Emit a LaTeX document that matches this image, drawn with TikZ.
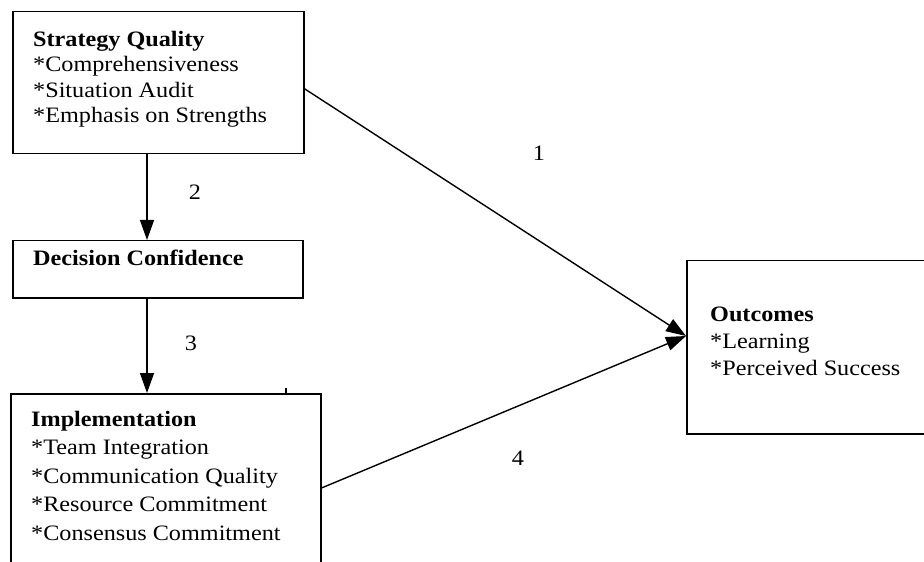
\documentclass[tikz,border=0pt]{standalone}
\usepackage{fontspec}
\setmainfont{Liberation Serif}[FakeStretch=1.1]
\usetikzlibrary{arrows.meta}
\begin{document}
\begin{tikzpicture}[x=1bp,y=-1bp,
  box/.style={draw, line width=1.5bp, inner sep=0pt, rectangle},
  txt/.style={anchor=north west, inner sep=0pt, align=left},
  arr/.style={line width=1.4bp, -{Triangle[width=14bp,length=20bp]}},
  lbl/.style={inner sep=0pt, font=\fontsize{22bp}{25bp}\selectfont}]
\useasboundingbox (0,0) rectangle (924,562);
\clip (0,0) rectangle (924,562);
\fill[white] (0,0) rectangle (924,562);
% boxes
\node[box, anchor=north west, minimum width=291bp, minimum height=142bp] (sq) at (12,11) {};
\node[box, anchor=north west, minimum width=290bp, minimum height=57bp] (dc) at (12,240) {};
\node[box, anchor=north west, minimum width=310bp, minimum height=200bp] (im) at (10,393) {};
\node[box, anchor=north west, minimum width=260bp, minimum height=173bp] (oc) at (686,260) {};
% texts
\node[txt, font=\fontsize{22bp}{25.5bp}\selectfont] (sqt) at (33,31)
  {\textbf{Strategy Quality}\\{}*Comprehensiveness\\{}*Situation Audit\\{}*Emphasis on Strengths};
\node[txt, font=\fontsize{22bp}{25bp}\selectfont] (dct) at (33,250)
  {\textbf{Decision Confidence}};
\node[txt, font=\fontsize{22bp}{28.5bp}\selectfont] (imt) at (31,411)
  {\textbf{Implementation}\\{}*Team Integration\\{}*Communication Quality\\{}*Resource Commitment\\{}*Consensus Commitment};
\node[txt, font=\fontsize{22bp}{27bp}\selectfont] (oct) at (710,307)
  {\textbf{Outcomes}\\{}*Learning\\{}*Perceived Success};
% connectors
\coordinate (ax) at (147,0);
\coordinate (tip) at (686,336);
\draw[arr] (sq.south -| ax) -- (dc.north -| ax);
\draw[arr] (dc.south -| ax) -- (im.north -| ax);
\draw[arr] ([yshift=-6bp]sq.east) -- (tip);
\draw[arr] ([yshift=-95bp]im.north east) -- (tip);
% labels
\node[lbl] (l1) at (539,153) {1};
\node[lbl] (l2) at (195,192) {2};
\node[lbl] (l3) at (191,343) {3};
\node[lbl] (l4) at (518,458) {4};
% stray tick
\draw[line width=1.5bp] (286,388) -- (286,393);
\end{tikzpicture}
\end{document}
